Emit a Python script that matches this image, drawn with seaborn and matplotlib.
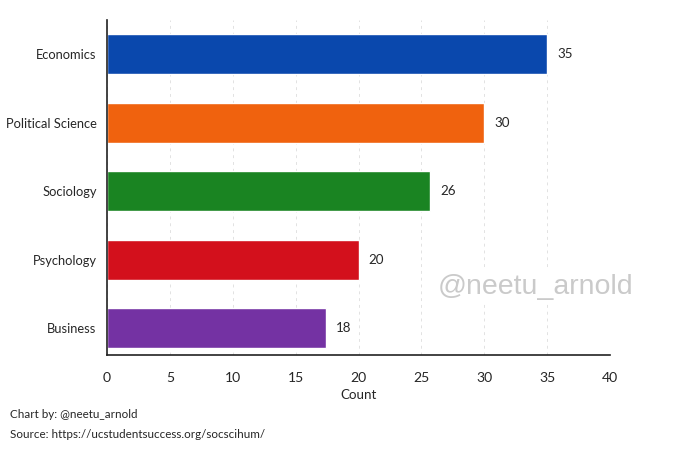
import matplotlib
matplotlib.use("Agg")
import matplotlib.pyplot as plt
from matplotlib import font_manager
import seaborn as sns
import pandas as pd

# majors and counts
majors = ["Economics", "Political Science", "Sociology", "Psychology", "Business"]
counts = [35, 30, 25.7, 20, 17.4]
count_labels = ["35", "30", "26", "20", "18"]
colors = ["#0a48ad", "#f0620e", "#1a8422", "#d3101c", "#7432a3"]

df = pd.DataFrame({"major": majors, "count": counts})

sns.set_style("white")

# a narrow face looks closest to the original; fall back to Lato
names = {f.name for f in font_manager.fontManager.ttflist}
if "Liberation Sans Narrow" in names:
    main_font = "Liberation Sans Narrow"
    scale = 1.0
else:
    main_font = "Lato"
    scale = 0.88
plt.rcParams["font.family"] = [main_font, "DejaVu Sans"]

fig = plt.figure(figsize=(6.8, 4.62), dpi=100)
ax = fig.add_axes([107 / 680, 1 - 355 / 462, 503 / 680, 335 / 462])

sns.barplot(data=df, y="major", x="count", hue="major", palette=colors,
            order=majors, width=0.58, saturation=1, legend=False, ax=ax, zorder=2)

for i, lab in enumerate(count_labels):
    ax.text(counts[i] + 0.8, i, lab, va="center", ha="left", fontsize=11 * scale)

ax.set_xlim(0, 40)
ax.set_ylim(4.39, -0.5)
ax.set_xticks(range(0, 41, 5))
ax.tick_params(axis="x", length=4, width=1, labelsize=11.5 * scale, pad=8, color="#222222")
ax.tick_params(axis="y", length=0, labelsize=10.6 * scale, pad=7.5)
ax.set_xlabel("Count", fontsize=11 * scale, labelpad=4)
ax.set_ylabel("")
ax.xaxis.grid(True, linestyle=(0, (3, 4)), color="#e2e2e2", linewidth=0.7, zorder=0)
ax.set_axisbelow(True)
sns.despine(ax=ax)
for s in ["left", "bottom"]:
    ax.spines[s].set_color("#222222")
    ax.spines[s].set_linewidth(1.2)

# watermark
fig.text(536 / 680, 1 - 287 / 462, "@neetu_arnold", fontsize=20.5, color="#cacaca",
         ha="center", va="center", family="Liberation Sans",
         bbox=dict(facecolor="white", edgecolor="none", pad=3))

fig.text(10 / 680, 1 - 414 / 462, "Chart by: @neetu_arnold", fontsize=9.5 * scale, va="center")
fig.text(10 / 680, 1 - 434 / 462, "Source: https://ucstudentsuccess.org/socscihum/",
         fontsize=9.5 * scale, va="center")

fig.savefig("out.png", dpi=100, facecolor="white")
